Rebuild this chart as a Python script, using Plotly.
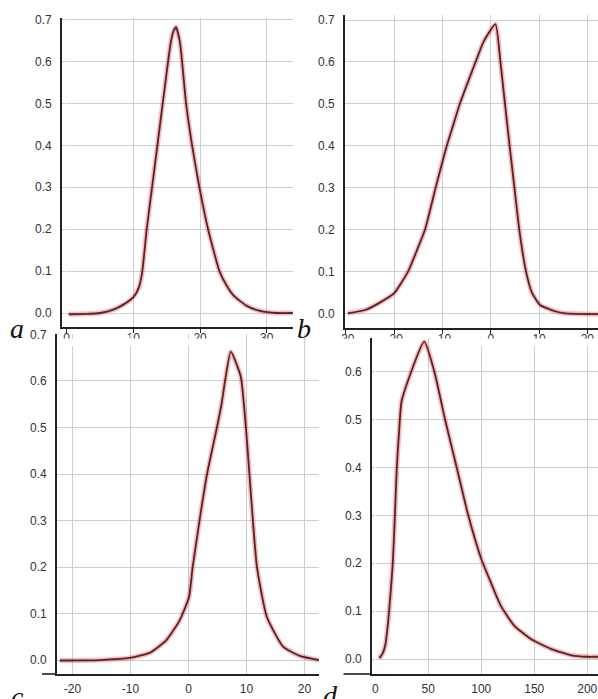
import plotly.graph_objects as go

W, H = 598, 699

# panel a
a_x = [0.3, 3, 5, 7, 8.5, 10, 10.8, 11.3, 12.0, 12.8, 13.6, 14.4, 15.2, 15.6, 16.0, 16.4,
       17.0, 17.9, 18.8, 19.9, 21.2, 22.9, 24, 25, 27, 29, 31.5, 33.9]
a_y = [-0.003, -0.002, 0.0, 0.008, 0.02, 0.038, 0.06, 0.095, 0.2, 0.3, 0.4, 0.5, 0.6, 0.645, 0.672, 0.682,
       0.644, 0.5, 0.4, 0.3, 0.2, 0.1, 0.065, 0.042, 0.017, 0.005, 0.0, 0.0]

# panel b
b_x = [-29.6, -26, -22.6, -20, -17.1, -15.3, -13.6, -11.4, -9.1, -7.8, -6.4, -4.3, -2.8, -1.5, 0.96,
       2.0, 2.95, 3.9, 4.9, 5.9, 7.3, 8.5, 10.2, 13.3, 15.4, 22.2]
b_y = [0.0, 0.008, 0.028, 0.048, 0.1, 0.15, 0.2, 0.3, 0.4, 0.448, 0.5, 0.565, 0.61, 0.648, 0.69,
       0.6, 0.5, 0.4, 0.3, 0.2, 0.1, 0.05, 0.02, 0.005, 0.0, -0.002]

# panel c
c_x = [-22.2, -15.2, -9.9, -6.6, -3.8, -1.5, 0.1, 0.7, 1.9, 3.2, 4.9, 5.7, 6.3, 7.3, 9.0, 9.9,
       10.5, 11.1, 11.8, 13.5, 16.3, 19.2, 22.5]
c_y = [-0.001, 0.0, 0.005, 0.016, 0.043, 0.086, 0.136, 0.198, 0.3, 0.4, 0.5, 0.55, 0.6, 0.663, 0.61, 0.5,
       0.4, 0.3, 0.2, 0.093, 0.029, 0.009, 0.0]

# panel d
d_x = [3.8, 7, 9.5, 12, 14.5, 16.5, 18.5, 20.3, 22.3, 25.0, 46.2, 55.7, 65.8, 76.8, 87.7, 100, 109,
       118.5, 131, 146.8, 166, 185, 200, 210]
d_y = [0.002, 0.012, 0.03, 0.075, 0.14, 0.2, 0.3, 0.4, 0.47, 0.54, 0.6625, 0.6, 0.5, 0.4, 0.3, 0.209, 0.16,
       0.111, 0.07, 0.042, 0.021, 0.008, 0.005, 0.005]

a_xticks = [0, 10, 20, 30]
b_xticks = [-30, -20, -10, 0, 10, 20]
c_xticks = [-20, -10, 0, 10, 20]
d_xticks = [0, 50, 100, 150, 200]
y_ticks7 = [0.0, 0.1, 0.2, 0.3, 0.4, 0.5, 0.6, 0.7]
y_ticks6 = [0.0, 0.1, 0.2, 0.3, 0.4, 0.5, 0.6]

def fx(p):
    return p / W

def fy(p):
    return 1 - p / H

# (suffix, x, y, x pixel span, y pixel span top/bottom, xrange, yrange, xticks, yticks)
panels = [
    ("", a_x, a_y, (62, 293), (18, 327), [-0.70, 33.93], [-0.0334, 0.704], a_xticks, y_ticks7),
    ("2", b_x, b_y, (345, 598), (15, 328), [-30.17, 22.2], [-0.035, 0.712], b_xticks, y_ticks7),
    ("3", c_x, c_y, (57, 319), (334, 674), [-22.67, 22.5], [-0.030, 0.701], c_xticks, y_ticks7),
    ("4", d_x, d_y, (372, 598), (338, 674), [-3.1, 210.1], [-0.031, 0.670], d_xticks, y_ticks6),
]

tick_font = dict(family="Liberation Sans, Arial, sans-serif", size=12, color="#333333")
axis_col = "#222222"
grid_col = "#cfcfcf"

fig = go.Figure()
layout = {}
for i, (n, xs, ys, xd, yd, xr, yr, xt, yt) in enumerate(panels):
    xa = "x" + n
    ya = "y" + n
    fig.add_trace(go.Scatter(x=xs, y=ys, xaxis=xa, yaxis=ya, mode="lines",
                             line=dict(color="rgba(225,70,70,0.35)", width=5, shape="spline", smoothing=0.5),
                             hoverinfo="skip", showlegend=False))
    fig.add_trace(go.Scatter(x=xs, y=ys, xaxis=xa, yaxis=ya, mode="lines",
                             line=dict(color="#5a2222", width=1.8, shape="spline", smoothing=0.5),
                             showlegend=False))
    top_panel = i < 2
    layout["xaxis" + n] = dict(
        domain=[fx(xd[0]), fx(xd[1])], range=xr, anchor=ya,
        tickvals=xt, ticktext=[str(v) for v in xt],
        showgrid=True, gridcolor=grid_col, gridwidth=1,
        zeroline=(i in (0, 3)), zerolinecolor="white", zerolinewidth=1,
        showline=True, linecolor=axis_col, linewidth=1.6,
        ticks="outside" if top_panel else "", ticklen=4, tickcolor=axis_col, tickwidth=1.4,
        ticklabelstandoff=-5 if top_panel else 3,
        tickfont=tick_font, fixedrange=True,
    )
    layout["yaxis" + n] = dict(
        domain=[fy(yd[1]), fy(yd[0])], range=yr, anchor=xa,
        tickvals=yt, ticktext=["%.1f" % v for v in yt],
        showgrid=True, gridcolor=grid_col, gridwidth=1, zeroline=False,
        showline=True, linecolor=axis_col, linewidth=1.6,
        ticks="", ticklabelstandoff=6,
        tickfont=tick_font, fixedrange=True,
    )

shapes = []
# the upper panels' x labels are half hidden under the lower panels
for v in a_xticks:
    p = 66.7 + v * 6.67
    shapes.append(dict(type="rect", xref="paper", yref="paper", layer="above",
                       x0=fx(max(p - 12, 60)), x1=fx(p + 12), y0=fy(346), y1=fy(338.5),
                       fillcolor="white", line=dict(width=0)))
for v in b_xticks:
    p = 490.7 + v * 4.83
    shapes.append(dict(type="rect", xref="paper", yref="paper", layer="above",
                       x0=fx(p - 12), x1=fx(min(p + 12, 598)), y0=fy(346), y1=fy(338.5),
                       fillcolor="white", line=dict(width=0)))
# x-axis lines running on left of the y-axes in c and d
shapes.append(dict(type="line", xref="paper", yref="paper", x0=fx(42), x1=fx(57), y0=fy(674), y1=fy(674),
                   line=dict(color=axis_col, width=1.6)))
shapes.append(dict(type="line", xref="paper", yref="paper", x0=fx(343.5), x1=fx(372), y0=fy(674), y1=fy(674),
                   line=dict(color=axis_col, width=1.6)))

letters = [("a", 17, 328.5), ("b", 303.5, 328.5), ("c", 17, 696.5), ("d", 330, 695.5)]
annotations = []
for t, px_, py_ in letters:
    annotations.append(dict(text="<i>" + t + "</i>", x=fx(px_), y=fy(py_), xref="paper", yref="paper",
                            xanchor="center", yanchor="middle", showarrow=False,
                            font=dict(family="Liberation Serif, Times New Roman, serif", size=28, color="#111111")))

fig.update_layout(width=W, height=H, margin=dict(l=0, r=0, t=0, b=0, autoexpand=False),
                  paper_bgcolor="white", plot_bgcolor="white",
                  shapes=shapes, annotations=annotations, **layout)

# drop the default page margin so the figure sits at the window corner
fig.write_html("out.html", config={"displayModeBar": False},
               post_script="document.body.style.margin='0';")
